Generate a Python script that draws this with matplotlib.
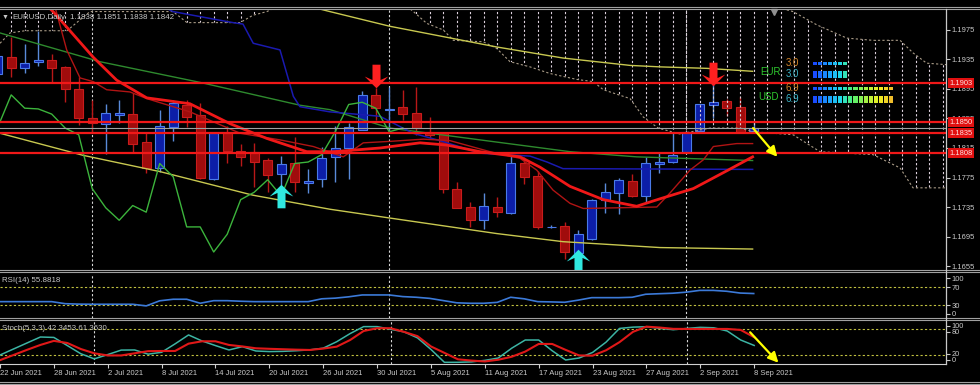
import numpy as np
import matplotlib
matplotlib.use("Agg")
import matplotlib.pyplot as plt
from matplotlib.lines import Line2D
from matplotlib.colors import LinearSegmentedColormap

plt.rcParams['font.family'] = ['Liberation Sans', 'DejaVu Sans']

W, H = 980, 385

# bar 0 = 22 Jun 2021, one bar per weekday up to 8 Sep 2021 (bar 56)
date_labels = ['22 Jun 2021', '28 Jun 2021', '2 Jul 2021', '8 Jul 2021', '14 Jul 2021',
               '20 Jul 2021', '26 Jul 2021', '30 Jul 2021', '5 Aug 2021', '11 Aug 2021',
               '17 Aug 2021', '23 Aug 2021', '27 Aug 2021', '2 Sep 2021', '8 Sep 2021']
date_bars = [0, 4, 8, 12, 16, 20, 24, 28, 32, 36, 40, 44, 48, 52, 56]
month_start_bars = [7, 29, 51]

opens = [1.1916, 1.1939, 1.1924, 1.1931, 1.1934, 1.1925, 1.1895, 1.1856, 1.1847, 1.1860,
         1.1861, 1.1823, 1.1788, 1.1843, 1.1873, 1.1860, 1.1773, 1.1835, 1.1811, 1.1809,
         1.1799, 1.1780, 1.1794, 1.1768, 1.1773, 1.1803, 1.1815, 1.1840, 1.1887, 1.1866,
         1.1870, 1.1862, 1.1837, 1.1835, 1.1759, 1.1735, 1.1718, 1.1735, 1.1727, 1.1795,
         1.1777, 1.1708, 1.1709, 1.1673, 1.1692, 1.1745, 1.1754, 1.1770, 1.1750, 1.1793,
         1.1796, 1.1809, 1.1838, 1.1873, 1.1879, 1.1870, 1.1838]
highs = [1.1946, 1.1966, 1.1956, 1.1973, 1.1943, 1.1926, 1.1911, 1.1880, 1.1875, 1.1880,
         1.1890, 1.1835, 1.1867, 1.1880, 1.1880, 1.1876, 1.1837, 1.1845, 1.1821, 1.1822,
         1.1802, 1.1804, 1.1830, 1.1786, 1.1817, 1.1845, 1.1849, 1.1892, 1.1896, 1.1898,
         1.1894, 1.1898, 1.1857, 1.1837, 1.1769, 1.1742, 1.1754, 1.1748, 1.1804, 1.1803,
         1.1784, 1.1710, 1.1715, 1.1704, 1.1746, 1.1767, 1.1774, 1.1780, 1.1803, 1.1808,
         1.1835, 1.1838, 1.1875, 1.1907, 1.1882, 1.1884, 1.1851]
lows = [1.1910, 1.1911, 1.1917, 1.1926, 1.1903, 1.1878, 1.1846, 1.1837, 1.1807, 1.1849,
        1.1808, 1.1781, 1.1783, 1.1825, 1.1844, 1.1773, 1.1772, 1.1795, 1.1791, 1.1762,
        1.1756, 1.1765, 1.1756, 1.1754, 1.1762, 1.1769, 1.1773, 1.1839, 1.1853, 1.1836,
        1.1853, 1.1833, 1.1828, 1.1754, 1.1733, 1.1708, 1.1705, 1.1722, 1.1726, 1.1766,
        1.1705, 1.1706, 1.1665, 1.1666, 1.1690, 1.1727, 1.1725, 1.1749, 1.1740, 1.1781,
        1.1795, 1.1808, 1.1837, 1.1856, 1.1858, 1.1835, 1.1838]
closes = [1.1940, 1.1923, 1.1930, 1.1934, 1.1924, 1.1895, 1.1855, 1.1849, 1.1863, 1.1862,
          1.1821, 1.1788, 1.1845, 1.1876, 1.1857, 1.1774, 1.1835, 1.1811, 1.1803, 1.1796,
          1.1779, 1.1793, 1.1769, 1.1770, 1.1802, 1.1815, 1.1843, 1.1887, 1.1869, 1.1868,
          1.1861, 1.1842, 1.1833, 1.1760, 1.1734, 1.1717, 1.1737, 1.1728, 1.1794, 1.1776,
          1.1708, 1.1708, 1.1674, 1.1698, 1.1745, 1.1755, 1.1772, 1.1750, 1.1794, 1.1796,
          1.1806, 1.1837, 1.1874, 1.1877, 1.1869, 1.1837, 1.1842]

# indicator lines as (bar, price) vertices
ma_top_x = [22.0, 24.6, 29.06, 36.96, 41.87, 46.84, 49.06, 52.52, 55.92]
ma_top_p = [1.2012, 1.2000, 1.1980, 1.1952, 1.1937, 1.1927, 1.1925, 1.1923, 1.1919]
ma_low_x = [0.17, 6.34, 12.02, 18.91, 24.6, 29.06, 36.96, 41.87, 49.06, 55.92]
ma_low_p = [1.1835, 1.1805, 1.1783, 1.1751, 1.1732, 1.1720, 1.1699, 1.1688, 1.1680, 1.1678]
ma_green_x = [0.17, 7.58, 14.98, 22.39, 24.61, 29.06, 32.02, 35.73, 42.39, 47.33, 55.92]
ma_green_p = [1.1971, 1.1932, 1.1904, 1.1873, 1.1867, 1.1842, 1.1835, 1.1826, 1.1810, 1.1803, 1.1798]
kijun_x = [12.02, 12.98, 16.22, 17.43, 18.17, 18.93, 20.91, 21.9, 22.39, 24.61, 28.32,
           30.76, 32.76, 35.73, 39.43, 40.69, 41.87, 55.92]
kijun_p = [1.2009, 1.2000, 1.1989, 1.1985, 1.1983, 1.1957, 1.1948, 1.1885, 1.1871, 1.1864, 1.1858,
           1.1835, 1.1825, 1.1808, 1.1804, 1.1796, 1.1787, 1.1786]
ma_red_x = [3.2, 4.1, 7.08, 8.81, 11.04, 14.24, 17.21, 19.93, 22.89, 24.86, 28.32, 31.28,
            33.26, 35.73, 38.69, 40.17, 42.39, 44.86, 47.33, 49.04, 51.53, 54.0, 55.92]
ma_red_p = [1.2016, 1.2000, 1.1938, 1.1907, 1.1883, 1.1875, 1.1848, 1.1828, 1.1810, 1.1810,
            1.1815, 1.1822, 1.1819, 1.1810, 1.1803, 1.1789, 1.1763, 1.1745, 1.1736, 1.1746,
            1.1760, 1.1784, 1.1803]
tenkan_x = [4.1, 4.37, 5.11, 6.1, 7.08, 8.07, 9.8, 11.04, 14.24, 17.96, 20.91, 23.38, 25.6,
            27.08, 29.06, 31.53, 33.5, 36.47, 38.69, 39.93, 41.13, 42.39, 43.38, 48.82, 49.8,
            51.28, 52.27, 53.01, 54.74, 55.92]
tenkan_p = [1.2016, 1.1998, 1.1948, 1.1910, 1.1905, 1.1894, 1.1891, 1.1882, 1.1864, 1.1835,
            1.1826, 1.1817, 1.1803, 1.1822, 1.1824, 1.1827, 1.1825, 1.1810, 1.1801, 1.1785,
            1.1758, 1.1740, 1.1733, 1.1735, 1.1754, 1.1785, 1.1799, 1.1817, 1.1821, 1.1821]
chikou_shift = 26

cloud_lo_x = [0.17, 0.91, 2.02, 5.13, 6.84, 12.99, 14.02, 17.95, 18.91, 19.95, 20.91, 30.17,
              30.79, 31.78, 33.01, 33.75, 35.97, 36.96, 37.95, 39.43, 40.91, 42.89, 44.12,
              44.86, 46.84, 47.82, 48.93, 50.54, 52.76, 54.99, 55.95, 58.91, 60.91, 64.84,
              66.84, 67.8, 70.3]
cloud_lo_p = [1.1957, 1.1971, 1.1974, 1.1974, 1.2000, 1.2000, 1.1985, 1.1985, 1.1995, 1.2000,
              1.2009, 1.2009, 1.2000, 1.1984, 1.1975, 1.1961, 1.1959, 1.1950, 1.1932, 1.1925,
              1.1916, 1.1908, 1.1905, 1.1894, 1.1882, 1.1857, 1.1842, 1.1834, 1.1842, 1.1842,
              1.1837, 1.1833, 1.1810, 1.1806, 1.1788, 1.1761, 1.1761]
cloud_hi_x = [0.17, 56.84, 57.9, 58.91, 60.67, 62.89, 64.84, 66.84, 67.8, 68.81, 70.3]
cloud_hi_p = [1.2040, 1.2040, 1.2005, 1.2000, 1.1982, 1.1964, 1.1961, 1.1961, 1.1944, 1.1930, 1.1928]

level_lines = [1.1903, 1.1850, 1.1835, 1.1808]
price_ticks = [1.1975, 1.1935, 1.1895, 1.1855, 1.1815, 1.1775, 1.1735, 1.1695, 1.1655]

sig_down_bars = [28, 53]
sig_down_price = [1.1913, 1.1915]
sig_up_bars = [21, 43]
sig_up_price = [1.1750, 1.1662]
proj_main_x = [55.95, 57.75]
proj_main_p = [1.1842, 1.1803]
proj_stoch_x = [55.7, 57.8]
proj_stoch_v = [73, 2]

rsi = [37.6, 37.6, 37.6, 37.6, 37.6, 33.0, 32.0, 31.7, 31.7, 31.7,
       31.7, 28.0, 39.5, 43.0, 43.0, 34.0, 39.8, 39.8, 38.5, 37.6,
       37.6, 37.6, 37.6, 37.6, 44.0, 45.5, 48.5, 52.7, 52.7, 52.7,
       49.0, 47.5, 45.0, 40.0, 35.0, 33.9, 33.9, 36.0, 47.5, 44.0,
       37.6, 37.0, 36.2, 41.0, 46.6, 46.6, 46.6, 47.5, 54.3, 55.5,
       56.6, 59.0, 63.0, 63.0, 61.0, 57.0, 55.9]
stoch_k = [20, 34, 48, 62, 61, 42, 23, 11, 21, 31.5,
           31.8, 22, 26.4, 46, 66.8, 52.8, 42, 31.8, 39.5, 29.4,
           28, 28.5, 30, 32, 36, 51, 70, 86.2, 86.2, 80,
           74, 60, 33, 3, 3, 4, 7.5, 13, 36, 55,
           55, 30, 8.4, 13, 26, 50, 82, 85, 86, 82,
           79, 82, 84.5, 83.5, 76, 55, 42.3]
stoch_d = [8, 20, 32, 43.5, 53, 48, 34, 24, 19, 19,
           24, 29, 29.4, 29.4, 46.5, 52, 52, 43.5, 40, 35.7,
           34.5, 33.5, 32.5, 31.8, 35, 39.5, 55, 76, 82.5, 82.5,
           74, 64, 40, 25, 10, 7, 5, 9, 16, 28,
           45.8, 45.8, 32, 19, 18.5, 31, 50, 74, 86.2, 84,
           81, 80.8, 80.8, 80.8, 80.8, 78.5, 61.4]

meter_names = ['EUR', 'USD']
meter_vals = [3.0, 6.9]

TXT = '#c8c8c8'
XLIM = (0.1704, 70.244)


def box(x0, y0, x1, y1):
    return [x0 / W, 1 - y1 / H, (x1 - x0) / W, (y1 - y0) / H]


def fig_line(xs, ys, color='#a0a0a0', lw=0.8):
    fig.add_artist(Line2D([v / W for v in xs], [1 - v / H for v in ys], color=color, lw=lw))


def ftext(x, y, s, **kw):
    fig.text(x / W, 1 - y / H, s, va='center', ha='left', **kw)


fig = plt.figure(figsize=(9.8, 3.85), dpi=100, facecolor='black')
ax = fig.add_axes(box(0, 9, 946, 270))
ax_rsi = fig.add_axes(box(0, 274, 946, 318.3))
ax_st = fig.add_axes(box(0, 320.7, 946, 363.6))
for a in (ax, ax_rsi, ax_st):
    a.set_facecolor('black')
    for s in a.spines.values():
        s.set_visible(False)
    a.set_xlim(*XLIM)
    a.tick_params(axis='x', bottom=False, labelbottom=False)
    for b in month_start_bars:
        a.axvline(b, color='#d8d8d8', lw=0.8, ls=(0, (2, 2)), zorder=1)

# ---- main chart ----
ax.set_ylim(1.164958, 1.200347)
x = np.arange(len(opens))
o, h, l, c = (np.array(v) for v in (opens, highs, lows, closes))
up = c >= o
dn = ~up
ax.vlines(x[up], l[up], h[up], color='#5a8ad8', lw=1, zorder=2)
ax.vlines(x[dn], l[dn], h[dn], color='#b81818', lw=1, zorder=2)
body = np.maximum(np.abs(c - o), 0.00003)
ax.bar(x[up], body[up], bottom=np.minimum(o, c)[up], width=0.66, color='#0c1ea8',
       edgecolor='#4a7ae8', lw=0.8, zorder=2.5)
ax.bar(x[dn], body[dn], bottom=np.minimum(o, c)[dn], width=0.66, color='#a00c0c',
       edgecolor='#c81c1c', lw=0.8, zorder=2.5)

# ichimoku cloud: dotted verticals clipped to the cloud area
poly = ax.fill(cloud_lo_x + cloud_hi_x[::-1], cloud_lo_p + cloud_hi_p[::-1],
               facecolor='none', edgecolor='none')[0]
hatch = ax.vlines(np.arange(0, 71), 1.16, 1.21, colors='#dcd0dc', lw=0.8,
                  linestyles=(0, (2, 2)), zorder=3)
hatch.set_clip_path(poly)
ax.plot(cloud_lo_x, cloud_lo_p, color='#a89a86', lw=0.8, ls=(0, (2, 2)), zorder=3)
ax.plot(cloud_hi_x, cloud_hi_p, color='#a89a86', lw=0.8, ls=(0, (2, 2)), zorder=3)

ax.plot(ma_top_x, ma_top_p, color='#c8c850', lw=1, zorder=4)
ax.plot(ma_low_x, ma_low_p, color='#c8c850', lw=1, zorder=4)
ax.plot(ma_green_x, ma_green_p, color='#2e8a2e', lw=1, zorder=4)
ax.plot(kijun_x, kijun_p, color='#1a1ab0', lw=1.1, zorder=4)
ax.plot(tenkan_x, tenkan_p, color='#b01414', lw=1, zorder=4)
ax.plot(ma_red_x, ma_red_p, color='#f01818', lw=2, zorder=4)
ax.plot(x[:len(x) - chikou_shift], c[chikou_shift:], color='#3cb43c', lw=1, zorder=4)

for p in level_lines:
    ax.axhline(p, color='#f01818', lw=1.6, zorder=5)
    ax.text(1.0035, p, f'{p:.4f}', transform=ax.get_yaxis_transform(), color='#ffe0e0',
            fontsize=5.4, va='center', ha='left', clip_on=False, zorder=7,
            bbox=dict(boxstyle='square,pad=0.18', fc='#e01010', ec='none'))
ax.axhline(closes[-1], color='#a0a0a0', lw=0.8, zorder=5)

arrow_dn = [(0, -1), (1.0, 0.0), (0.34, -0.3), (0.34, 1), (-0.34, 1),
            (-0.34, -0.3), (-1.0, 0.0), (0, -1)]
arrow_up = [(vx, -vy) for vx, vy in arrow_dn]
ax.plot(sig_down_bars, sig_down_price, ls='none', marker=arrow_dn, ms=17,
        color='#ff2020', mec='none', zorder=6)
ax.plot(sig_up_bars, sig_up_price, ls='none', marker=arrow_up, ms=17,
        color='#30e8e0', mec='none', zorder=6)
ax.annotate('', xy=(proj_main_x[1], proj_main_p[1]), xytext=(proj_main_x[0], proj_main_p[0]),
            arrowprops=dict(arrowstyle='-|>,head_length=0.6,head_width=0.3', color='#ffff00',
                            lw=1.6, shrinkA=0, shrinkB=0), zorder=6)
ax.plot([57.5], [1.2000], marker='v', ms=4, color='#909090', clip_on=False)

ax.yaxis.tick_right()
ax.set_yticks(price_ticks)
ax.set_yticklabels([f'{v:.4f}' for v in price_ticks])
ax.tick_params(axis='y', colors='#c8c8c8', labelsize=5.5, length=3, width=0.8, pad=1)

# ---- RSI ----
ax_rsi.set_ylim(0, 100)
for lv in (70, 30):
    ax_rsi.axhline(lv, color='#c0c040', lw=0.8, ls=(0, (2, 2)))
ax_rsi.plot(x, rsi, color='#3c7ad8', lw=1.2)
ax_rsi.yaxis.tick_right()
ax_rsi.set_yticks([10.4, 30, 70, 90.3])
ax_rsi.set_yticklabels(['0', '30', '70', '100'])
ax_rsi.tick_params(axis='y', colors='#c8c8c8', labelsize=5.5, length=3, width=0.8, pad=1)

# ---- Stochastic ----
ax_st.set_ylim(0, 100)
for lv in (80, 20):
    ax_st.axhline(lv, color='#c0c040', lw=0.8, ls=(0, (2, 2)))
ax_st.plot(x, stoch_k, color='#3cb4a4', lw=1.1)
ax_st.plot(x, stoch_d, color='#e01818', lw=1.5)
ax_st.annotate('', xy=(proj_stoch_x[1], proj_stoch_v[1]), xytext=(proj_stoch_x[0], proj_stoch_v[0]),
               arrowprops=dict(arrowstyle='-|>,head_length=0.6,head_width=0.3', color='#ffff00',
                               lw=1.6, shrinkA=0, shrinkB=0), annotation_clip=False)
ax_st.yaxis.tick_right()
ax_st.set_yticks([8.6, 22.4, 74.8, 88.8])
ax_st.set_yticklabels(['0', '20', '80', '100'])
ax_st.tick_params(axis='y', colors='#c8c8c8', labelsize=5.3, length=3, width=0.8, pad=1)
ax_st.spines['bottom'].set_visible(True)
ax_st.spines['bottom'].set_color('#d0d0d0')
ax_st.set_xticks(date_bars)
ax_st.set_xticklabels(date_labels, ha='left')
ax_st.tick_params(axis='x', bottom=True, labelbottom=True, colors='#d0d0d0', labelcolor=TXT,
                  labelsize=5.5, length=3, width=0.8, pad=1.5)

# ---- currency strength meter ----
ax_m = fig.add_axes(box(812, 58, 900, 104))
ax_m.set_xlim(0, 17.2)
ax_m.set_ylim(104, 58)
ax_m.axis('off')
meter_cmap = LinearSegmentedColormap.from_list('m', [
    (0, '#1a4cff'), (0.12, '#1aa0ff'), (0.22, '#20d8e8'), (0.32, '#50f070'),
    (0.45, '#b0f040'), (0.55, '#f0f020'), (0.68, '#f0b030'), (1, '#f06020')])
for r, (name, v) in enumerate(zip(meter_names, meter_vals)):
    n = int(round(v / 10 * 23))
    segs = np.arange(n) + 0.5
    cols = meter_cmap(np.arange(n) / 23)
    ax_m.bar(segs, 3, bottom=61.5 + 25 * r, width=0.8, color=cols)
    ax_m.bar(segs, 7, bottom=70.5 + 25 * r, width=0.8, color=cols)
    ftext(758 + 2 * (1 - r), 72 + 25 * r, name, color='#2ec82e', fontsize=7)
    ftext(786, 63 + 25 * r, f'{v:.1f}', color='#d4852a', fontsize=7)
    ftext(786, 74 + 25 * r, f'{v:.1f}', color='#3cb4c8', fontsize=7)

# ---- labels & frame ----
ftext(2, 17.5, '▼', color=TXT, fontsize=5)
ftext(12, 17.5, 'EURUSD,Daily', color=TXT, fontsize=5.7)
ftext(70, 17.5, f'{opens[-1]:.4f} {highs[-1]:.4f} {lows[-1]:.4f} {closes[-1]:.4f}',
      color=TXT, fontsize=5.7)
ftext(2, 280, 'RSI(14) 55.8818', color=TXT, fontsize=5.7)
ftext(2, 328, 'Stoch(5,3,3) 42.3453 61.3630', color=TXT, fontsize=5.7)

for yy in (6.8, 8.6, 269.6, 271.6, 317.9, 320.1, 381.6, 383.6):
    fig_line([0, W], [yy, yy])
fig_line([946, 946], [9, 364], color='#c8c8c8', lw=0.9)

fig.savefig('out.png', dpi=100, facecolor='black')
